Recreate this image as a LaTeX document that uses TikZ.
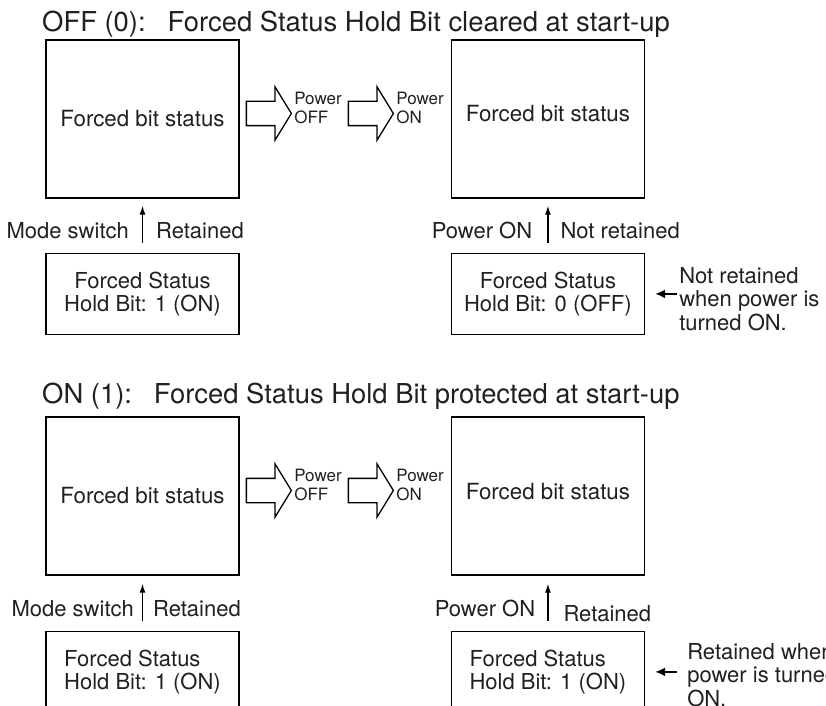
\documentclass[tikz,border=0pt]{standalone}
\usepackage{fontspec}
\setmainfont{TeX Gyre Heros}
\usepackage{tikz}
\usetikzlibrary{shapes.arrows, arrows.meta, positioning, calc}
\definecolor{inkGray}{HTML}{231F20}

\begin{document}
\begin{tikzpicture}[
        x=1pt, y=1pt,
        title/.style={text=inkGray, inner sep=0pt, font=\fontsize{27.4}{32}\selectfont},
        bigbox/.style={draw, line width=1.4pt, minimum width=193pt, minimum height=158pt,
            inner sep=0pt, text=inkGray, font=\fontsize{22.3}{26}\selectfont},
        holdbox/.style={draw, line width=1.4pt, minimum width=193pt, minimum height=81pt,
            inner sep=0pt, text=inkGray, font=\fontsize{22}{23.5}\selectfont},
        pwrarrow/.style={single arrow, draw, line width=1.3pt, minimum height=45pt,
            inner xsep=0pt, inner ysep=11.5pt, single arrow head extend=14.5pt,
            single arrow tip angle=117},
        pwrtext/.style={align=left, inner sep=1pt, text=inkGray, font=\fontsize{17}{19}\selectfont},
        lbl/.style={inner sep=3pt, text=inkGray, font=\fontsize{22}{26}\selectfont},
        note/.style={align=left, inner sep=2pt, text=inkGray, font=\fontsize{22}{23.5}\selectfont},
        uparr/.style={-{Latex[length=9pt,width=6pt]}, line width=1.3pt},
        notearr/.style={-{Latex[length=10pt,width=9pt]}, line width=2.2pt}
    ]
        \useasboundingbox (0,0) rectangle (826,705);
        \clip (0,0) rectangle (826,705);

        % OFF (0)
        \node[title, anchor=base west] (offtitle) at (42,673)
            {OFF (0):\hspace{0.8em}Forced Status Hold Bit cleared at start-up};
        \node[bigbox] (stat1) at (142.5,586) {Forced bit status};
        \node[bigbox, right=211pt of stat1, text depth=12pt] (stat2) {Forced bit status};
        \node[holdbox, align=center, below=54pt of stat1] (hold1) {Forced Status\\Hold Bit: 1 (ON)};
        \node[holdbox, align=center, below=54pt of stat2] (hold2) {Forced Status\\Hold Bit: 0 (OFF)};
        \node[pwrarrow, anchor=tail] (off1) at ($(stat1.east)+(6,5.5)$) {};
        \node[pwrarrow, anchor=tail] (on1) at ($(off1.tail)+(102,0)$) {};
        \node[pwrtext, right=1pt of off1.tip, yshift=6pt] (offlbl1) {Power\\OFF};
        \node[pwrtext, right=1pt of on1.tip, yshift=6pt] (onlbl1) {Power\\ON};
        \node[note, right=32pt of hold2, yshift=-5pt] (note1) {Not retained\\when power is\\turned ON.};

        \draw[uparr] ([yshift=10pt]hold1.north) --
            node[lbl, pos=.32, left=10pt]{Mode switch}
            node[lbl, pos=.32, right=10pt]{Retained} ([yshift=-7pt]stat1.south);
        \draw[uparr] ([yshift=10pt]hold2.north) --
            node[lbl, pos=.32, left=12pt]{Power ON}
            node[lbl, pos=.32, right=9pt]{Not retained} ([yshift=-7pt]stat2.south);
        \draw[notearr] (note1.west |- hold2.east) -- ([xshift=10pt]hold2.east);

        % ON (1)
        \node[title, anchor=base west] (ontitle) at (42,302)
            {ON (1):\hspace{0.8em}Forced Status Hold Bit protected at start-up};
        \node[bigbox] (stat3) at (142.5,209) {Forced bit status};
        \node[bigbox, right=211pt of stat3, text depth=10pt] (stat4) {Forced bit status};
        \node[holdbox, align=left, below=55pt of stat3] (hold3) {Forced Status\\Hold Bit: 1 (ON)};
        \node[holdbox, align=left, below=55pt of stat4] (hold4) {Forced Status\\Hold Bit: 1 (ON)};
        \node[pwrarrow, anchor=tail] (off2) at ($(stat3.east)+(6,5.5)$) {};
        \node[pwrarrow, anchor=tail] (on2) at ($(off2.tail)+(102,0)$) {};
        \node[pwrtext, right=1pt of off2.tip, yshift=6pt] (offlbl2) {Power\\OFF};
        \node[pwrtext, right=1pt of on2.tip, yshift=6pt] (onlbl2) {Power\\ON};
        \node[note, right=40pt of hold4, yshift=-3pt] (note2) {Retained when\\power is turned\\ON.};

        \draw[uparr] ([yshift=10pt]hold3.north) --
            node[lbl, pos=.32, left=5pt]{Mode switch}
            node[lbl, pos=.32, right=7pt]{Retained} ([yshift=-8pt]stat3.south);
        \draw[uparr] ([yshift=10pt]hold4.north) --
            node[lbl, pos=.32, left=9pt]{Power ON}
            node[lbl, pos=.2, right=12pt]{Retained} ([yshift=-8pt]stat4.south);
        \draw[notearr, shorten <=8pt] (note2.west |- hold4.east) -- ([xshift=10pt]hold4.east);
    \end{tikzpicture}
\end{document}
